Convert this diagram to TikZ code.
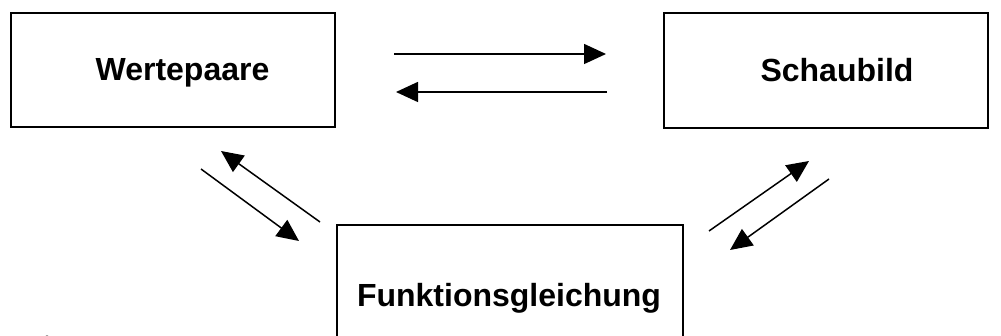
\documentclass[tikz,border=0pt]{standalone}
\usepackage{fontspec}
\setmainfont{Liberation Sans}
\usetikzlibrary{arrows.meta}
\begin{document}
\begin{tikzpicture}[x=1pt,y=-1pt,
  box/.style={draw=black,line width=2pt,minimum width=#1,inner sep=0pt},
  lbl/.style={anchor=base,inner sep=0pt,font=\fontsize{32}{37}\selectfont\bfseries},
  conn/.style={line width=1.5pt,-{Triangle[length=22pt,width=20pt]}}]
\clip (0,0) rectangle (1001,336);
\fill[white] (0,0) rectangle (1001,336);
\node[box=324pt,minimum height=114pt] (w) at (173,70) {};
\node[box=324pt,minimum height=115pt] (s) at (826,70.5) {};
\node[box=346pt,minimum height=130pt] (f) at (510,290) {};
\node[lbl] (wt) at (182.5,81) {Wertepaare};
\node[lbl] (st) at (837,82) {Schaubild};
\node[lbl] (ft) at (509,307) {Funktionsgleichung};
\coordinate (a1) at (394,54);  \coordinate (b1) at (606,54);
\coordinate (a2) at (607,92);  \coordinate (b2) at (396,92);
\coordinate (a3) at (320,222); \coordinate (b3) at (221,151);
\coordinate (a4) at (201,169); \coordinate (b4) at (299,241);
\coordinate (a5) at (709,231); \coordinate (b5) at (809,161);
\coordinate (a6) at (829,179); \coordinate (b6) at (730,250);
\draw[conn] (a1) -- (b1);
\draw[conn] (a2) -- (b2);
\draw[conn] (a3) -- (b3);
\draw[conn] (a4) -- (b4);
\draw[conn] (a5) -- (b5);
\draw[conn] (a6) -- (b6);
\fill[black] (47,338.5) ellipse (3.5pt and 3pt);
\end{tikzpicture}
\end{document}
